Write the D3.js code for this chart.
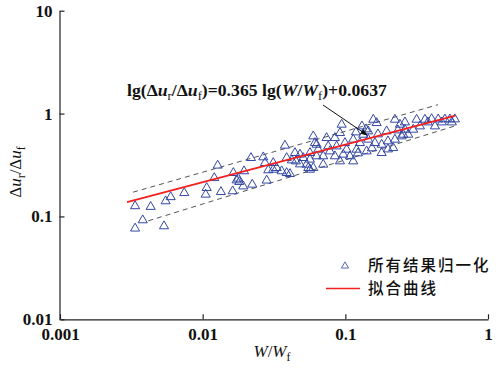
<!DOCTYPE html>
<html><head><meta charset="utf-8">
<script src="https://cdn.jsdelivr.net/npm/d3@7"></script>
<style>
body{margin:0;background:#fff;}
svg{display:block;}
</style></head>
<body>
<svg id="chart" width="502" height="373"></svg>
<script>
// Normalised results (W/Wf, Δur/Δuf)
const ptsX = [0.00336,0.00432,0.0055,0.00597,0.00743,0.0105,0.01067,0.01206,0.01274,0.01343,0.0038,0.00336,0.00536,
0.0218,0.0164,0.0195,0.01777,0.01806,0.0173,0.02226,0.01925,0.01623,0.0281,0.0266,0.02733,0.03124,0.03124,0.033,0.03773,0.03879,0.03578,0.03879,0.0409,0.04435,0.0481,0.04507,0.0507,0.0565,0.0596,0.05356,0.0565,0.0629,0.0629,0.055,0.02883,
0.0942,0.157,0.1657,0.2226,0.2617,0.1947,0.1447,0.1335,0.0612,0.0739,0.0845,0.0646,0.0759,0.0869,0.0994,0.1136,0.1021,0.12,0.1612,0.1797,0.2226,0.2546,0.0565,0.07,0.0845,0.0967,0.1077,0.141,0.1797,0.2166,0.07,0.0596,0.0917,0.1136,0.078,0.0917,0.1266,0.1447,
0.3159,0.3613,0.4025,0.4477,0.4989,0.5408,0.5861,0.2414,0.2617,0.3333,0.4246,0.276,0.2991,0.248,0.379,0.4753,0.558,0.1989,0.1692,0.1226,0.1536,0.1989,0.2337,0.0481,0.0422,0.1307,0.1187,0.1395];
const ptsY = [0.129,0.127,0.144,0.158,0.173,0.167,0.194,0.242,0.32,0.177,0.0941,0.0782,0.0823,
0.379,0.271,0.282,0.239,0.222,0.23,0.209,0.201,0.18,0.229,0.385,0.339,0.339,0.292,0.303,0.5,0.379,0.282,0.271,0.265,0.424,0.409,0.352,0.379,0.424,0.616,0.327,0.292,0.511,0.394,0.303,0.288,
0.8,0.894,0.829,0.894,0.842,0.689,0.689,0.639,0.53,0.593,0.593,0.457,0.492,0.492,0.53,0.572,0.457,0.457,0.53,0.511,0.572,0.639,0.366,0.394,0.394,0.409,0.394,0.44,0.424,0.474,0.327,0.303,0.352,0.352,0.44,0.663,0.53,0.572,
0.894,0.894,0.906,0.9,0.9,0.9,0.9,0.8,0.715,0.77,0.77,0.639,0.715,0.616,0.842,0.842,0.842,0.551,0.644,0.421,0.471,0.46,0.704,0.329,0.36,0.77,0.673,0.72];

// Fit: lg(y) = 0.365 lg(x) + 0.0637
const fitSlope = 0.365, fitIntercept = 0.0637;
const fitXRange = [0.00295, 0.59];
// Dashed bound lines (endpoints)
const upperX = [0.00325, 0.446], upperY = [0.172, 1.22];
const lowerX = [0.00416, 0.577], lowerY = [0.0906, 0.753];

const xTicks = [0.001, 0.01, 0.1, 1];
const xTickLabels = ["0.001", "0.01", "0.1", "1"];
const yTicks = [0.01, 0.1, 1, 10];
const yTickLabels = ["0.01", "0.1", "1", "10"];
const legendLabels = ["所有结果归一化", "拟合曲线"];

const svg = d3.select("#chart");
const x = d3.scaleLog().domain([0.001, 1]).range([60, 488]);
const y = d3.scaleLog().domain([0.01, 10]).range([319.3, 10.7]);

const serif = "'Liberation Serif','DejaVu Serif',serif";

// axes
const xAxis = d3.axisBottom(x).tickValues(xTicks).tickFormat((d,i)=>xTickLabels[i]).tickSizeInner(-5).tickSizeOuter(0).tickPadding(9);
const gx = svg.append("g").attr("transform","translate(0,319.3)").call(xAxis);
const yAxis = d3.axisLeft(y).tickValues(yTicks).tickFormat((d,i)=>yTickLabels[i]).tickSizeInner(-5).tickSizeOuter(0).tickPadding(7);
const gy = svg.append("g").attr("transform","translate(59.5,0)").call(yAxis);
[gx, gy].forEach(g=>{
  g.select(".domain").attr("stroke","#222").attr("stroke-width",1.2);
  g.selectAll(".tick line").attr("stroke","#222").attr("stroke-width",1.2);
  g.selectAll(".tick text").attr("font-family",serif).attr("font-weight","bold").attr("font-size",17).attr("fill","#111");
});

// dashed bounds
const line = d3.line().x(d=>x(d[0])).y(d=>y(d[1]));
svg.append("path").datum(upperX.map((v,i)=>[v,upperY[i]])).attr("d",line)
  .attr("fill","none").attr("stroke","#555").attr("stroke-width",1).attr("stroke-dasharray","5,4");
svg.append("path").datum(lowerX.map((v,i)=>[v,lowerY[i]])).attr("d",line)
  .attr("fill","none").attr("stroke","#555").attr("stroke-width",1).attr("stroke-dasharray","5,4");

// points
const tri = d3.symbol().type(d3.symbolTriangle).size(36);
const pts = ptsX.map((v,i)=>[v, ptsY[i]]);
svg.append("g").selectAll("path").data(pts).join("path")
  .attr("d", tri)
  .attr("transform", d=>`translate(${x(d[0])},${y(d[1])+1})`)
  .attr("fill","none").attr("stroke","#3347a3").attr("stroke-width",1);

// fit line
const fitPts = fitXRange.map(v=>[v, Math.pow(10, fitSlope*Math.log10(v)+fitIntercept)]);
svg.append("path").datum(fitPts).attr("d", line)
  .attr("fill","none").attr("stroke","#f42020").attr("stroke-width",1.8);

// arrow
svg.append("defs").append("marker").attr("id","ah").attr("viewBox","0 0 10 10")
  .attr("refX",9).attr("refY",5).attr("markerWidth",7).attr("markerHeight",7).attr("orient","auto")
  .append("path").attr("d","M0,1 L10,5 L0,9 z").attr("fill","#111");
svg.append("line").attr("x1",323).attr("y1",105).attr("x2",367).attr("y2",135)
  .attr("stroke","#111").attr("stroke-width",1).attr("marker-end","url(#ah)");

// equation
const eq = svg.append("text").attr("x",127).attr("y",96).attr("font-family",serif)
  .attr("font-weight","bold").attr("font-size",17.7).attr("fill","#111");
const parts = [
  ["lg(Δ",0,""],["u",0,"i"],["r",1,""],["/Δ",-1,""],["u",0,"i"],["f",1,""],[")=0.365 lg(",-1,""],
  ["W",0,"i"],["/",0,""],["W",0,"i"],["f",1,""],[")+0.0637",-1,""]
];
parts.forEach(p=>{
  const t = eq.append("tspan").text(p[0]);
  if (p[2]==="i") t.attr("font-style","italic");
  if (p[1]===1) t.attr("dy",4).attr("font-size",12.5).attr("font-weight","normal");
  if (p[1]===-1) t.attr("dy",-4);
});

// axis titles
const yt = svg.append("text").attr("transform","translate(21,172) rotate(-90)").attr("text-anchor","middle")
  .attr("font-family",serif).attr("font-size",17).attr("fill","#111");
yt.append("tspan").text("Δ");
yt.append("tspan").text("u").attr("font-style","italic");
yt.append("tspan").text("r").attr("font-size",12).attr("dy",4);
yt.append("tspan").text("/Δ").attr("dy",-4);
yt.append("tspan").text("u").attr("font-style","italic");
yt.append("tspan").text("f").attr("font-size",12).attr("dy",4);

const xt = svg.append("text").attr("x",272).attr("y",357).attr("text-anchor","middle")
  .attr("font-family",serif).attr("font-size",17).attr("fill","#111");
xt.append("tspan").text("W").attr("font-style","italic");
xt.append("tspan").text("/");
xt.append("tspan").text("W").attr("font-style","italic");
xt.append("tspan").text("f").attr("font-size",12).attr("dy",4);

// legend
const cjk = "'Noto Sans CJK SC','Noto Sans',sans-serif";
const lg = svg.append("g");
lg.append("path").attr("d", d3.symbol().type(d3.symbolTriangle).size(22))
  .attr("transform","translate(345,266)").attr("fill","none").attr("stroke","#5566b5").attr("stroke-width",1);
lg.append("line").attr("x1",326).attr("x2",360).attr("y1",288.5).attr("y2",288.5).attr("stroke","#f42020").attr("stroke-width",1.5);
lg.selectAll("text").data(legendLabels).join("text")
  .attr("x",368).attr("y",(d,i)=>265.5+i*23).attr("dy","0.36em")
  .attr("font-family",cjk).attr("font-size",15.5).attr("letter-spacing",2).attr("font-weight",500).attr("fill","#111").text(d=>d);
</script>
</body></html>
